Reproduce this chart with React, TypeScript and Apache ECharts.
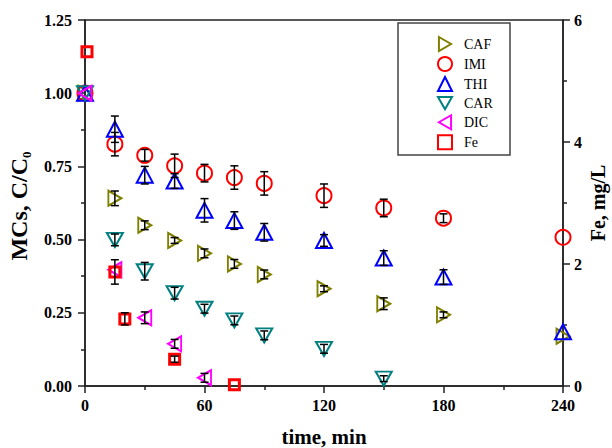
import React, { useEffect, useRef } from "react";
import * as echarts from "echarts";

// ---- data ----
const tCAF = [0, 15, 30, 45, 60, 75, 90, 120, 150, 180, 240];
const vCAF = [1.0, 0.641, 0.549, 0.497, 0.453, 0.417, 0.381, 0.332, 0.281, 0.243, 0.17];
const eCAF = [0, 0.025, 0.015, 0.01, 0.015, 0.015, 0.015, 0.01, 0.02, 0.01, 0];

const tIMI = [0, 15, 30, 45, 60, 75, 90, 120, 150, 180, 240];
const vIMI = [1.0, 0.826, 0.788, 0.752, 0.727, 0.712, 0.692, 0.65, 0.608, 0.573, 0.508];
const eIMI = [0, 0.04, 0.02, 0.04, 0.03, 0.04, 0.04, 0.04, 0.03, 0.015, 0];

const tTHI = [0, 15, 30, 45, 60, 75, 90, 120, 150, 180, 240];
const vTHI = [1.0, 0.877, 0.72, 0.7, 0.6, 0.565, 0.525, 0.497, 0.437, 0.372, 0.185];
const eTHI = [0, 0.045, 0.03, 0.025, 0.04, 0.03, 0.03, 0.02, 0.025, 0.025, 0];

const tCAR = [0, 15, 30, 45, 60, 75, 90, 120, 150];
const vCAR = [1.0, 0.499, 0.392, 0.317, 0.264, 0.224, 0.173, 0.127, 0.025];
const eCAR = [0, 0.02, 0.03, 0.02, 0.015, 0.015, 0.015, 0.015, 0.01];

const tDIC = [0, 15, 30, 45, 60];
const vDIC = [1.0, 0.397, 0.233, 0.144, 0.028];
const eDIC = [0, 0, 0.02, 0.015, 0.015];

const tFe = [1, 15, 20, 45, 75];
const vFe = [5.48, 1.87, 1.1, 0.44, 0.02];
const eFe = [0, 0.2, 0.1, 0.05, 0];

const legendNames = ["CAF", "IMI", "THI", "CAR", "DIC", "Fe"];
const xTicks = [0, 60, 120, 180, 240];

const FONT = "Liberation Serif";

const RIGHT_TRI = "path://M0,0L13,7.5L0,15Z";
const LEFT_TRI = "path://M13,0L0,7.5L13,15Z";
const DOWN_TRI = "path://M0,0L16,0L8,14Z";

function zip(ts: number[], vs: number[]) {
  return ts.map((t, i) => [t, vs[i]]);
}

function errSeries(name: string, ts: number[], vs: number[], es: number[], yAxisIndex: number) {
  const data = ts
    .map((t, i) => [t, vs[i] - es[i], vs[i] + es[i]])
    .filter((_, i) => es[i] > 0);
  return {
    type: "custom",
    name: name + "-err",
    yAxisIndex,
    data,
    z: 5,
    silent: true,
    encode: { x: 0, y: [1, 2] },
    renderItem: (params: any, api: any) => {
      const x = api.value(0);
      const lo = api.coord([x, api.value(1)]);
      const hi = api.coord([x, api.value(2)]);
      const w = 4;
      const st = { stroke: "#000", lineWidth: 1.5 };
      return {
        type: "group",
        children: [
          { type: "line", shape: { x1: lo[0], y1: lo[1], x2: hi[0], y2: hi[1] }, style: st },
          { type: "line", shape: { x1: lo[0] - w, y1: lo[1], x2: lo[0] + w, y2: lo[1] }, style: st },
          { type: "line", shape: { x1: hi[0] - w, y1: hi[1], x2: hi[0] + w, y2: hi[1] }, style: st },
        ],
      };
    },
  };
}

function scatter(name: string, ts: number[], vs: number[], color: string, symbol: string, size: any, bw: number, yAxisIndex = 0) {
  return {
    type: "scatter",
    name,
    yAxisIndex,
    data: zip(ts, vs),
    symbol,
    symbolSize: size,
    z: 3,
    itemStyle: { color: "rgba(0,0,0,0)", borderColor: color, borderWidth: bw, opacity: 1 },
  };
}

const axisLineStyle = { color: "#222", width: 1.5 };
const labelStyle = { fontFamily: FONT, fontWeight: "bold" as const, fontSize: 16, color: "#000" };

export default function App() {
  const ref = useRef<HTMLDivElement>(null);
  useEffect(() => {
    if (!ref.current) return;
    const chart = echarts.init(ref.current, undefined, { renderer: "svg" });
    chart.setOption({
      animation: false,
      backgroundColor: "#fff",
      grid: {
        left: 85,
        right: 49,
        top: 20,
        bottom: 62,
        show: true,
        borderColor: "#222",
        borderWidth: 1.5,
        outerBoundsMode: "none",
        containLabel: false,
      },
      legend: {
        orient: "vertical",
        left: 437,
        top: 36,
        padding: 0,
        itemWidth: 14,
        itemHeight: 14,
        itemGap: 4,
        selectedMode: false,
        data: legendNames,
        textStyle: { fontFamily: FONT, fontSize: 14, color: "#000", padding: [0, 0, 0, 7] },
      },
      graphic: [
        {
          type: "rect",
          shape: { x: 398, y: 23, width: 112, height: 132 },
          style: { fill: "none", stroke: "#444", lineWidth: 1.5 },
          z: 10,
        },
      ],
      xAxis: {
        type: "value",
        min: 0,
        max: 240,
        interval: 60,
        name: "time, min",
        nameLocation: "middle",
        nameGap: 40,
        nameTextStyle: { fontFamily: FONT, fontWeight: "bold", fontSize: 21, color: "#000" },
        axisLine: { show: true, onZero: false, lineStyle: axisLineStyle },
        axisTick: { show: true, length: 7, lineStyle: axisLineStyle },
        minorTick: { show: true, splitNumber: 2, length: 4, lineStyle: axisLineStyle },
        axisLabel: {
          ...labelStyle,
          margin: 11,
          formatter: (v: number) => (xTicks.includes(v) ? String(v) : ""),
        },
        splitLine: { show: false },
      },
      yAxis: [
        {
          type: "value",
          min: 0,
          max: 1.25,
          interval: 0.25,
          name: "{a|MCs, C/C}{b|0}",
          nameLocation: "middle",
          nameRotate: 90,
          nameGap: 45,
          nameTextStyle: {
            fontFamily: FONT,
            fontWeight: "bold",
            fontSize: 24,
            color: "#000",
            padding: [0, 6, 0, 0],
            rich: {
              a: { fontFamily: FONT, fontWeight: "bold", fontSize: 24, lineHeight: 24, verticalAlign: "top", color: "#000" },
              b: { fontFamily: FONT, fontWeight: "bold", fontSize: 13, lineHeight: 26, verticalAlign: "bottom", color: "#000" },
            },
          },
          axisLine: { show: true, onZero: false, lineStyle: axisLineStyle },
          axisTick: { show: true, length: 7, lineStyle: axisLineStyle },
          minorTick: { show: true, splitNumber: 2, length: 4, lineStyle: axisLineStyle },
          axisLabel: { ...labelStyle, margin: 13, formatter: (v: number) => v.toFixed(2) },
          splitLine: { show: false },
        },
        {
          type: "value",
          position: "right",
          min: 0,
          max: 6,
          interval: 2,
          name: "Fe, mg/L",
          nameLocation: "middle",
          nameRotate: 90,
          nameGap: 25,
          nameMoveOverlap: false,
          nameTextStyle: { fontFamily: FONT, fontWeight: "bold", fontSize: 20, color: "#000" },
          axisLine: { show: true, onZero: false, lineStyle: axisLineStyle },
          axisTick: { show: true, length: 7, lineStyle: axisLineStyle },
          minorTick: { show: true, splitNumber: 2, length: 4, lineStyle: axisLineStyle },
          axisLabel: { ...labelStyle, margin: 11 },
          splitLine: { show: false },
        },
      ],
      series: [
        scatter("CAF", tCAF, vCAF, "#808000", RIGHT_TRI, [13, 15], 2),
        scatter("IMI", tIMI, vIMI, "#ff0000", "circle", 15, 2),
        scatter("THI", tTHI, vTHI, "#0000ff", "triangle", [16, 15], 2),
        scatter("CAR", tCAR, vCAR, "#008080", DOWN_TRI, [16, 14], 2),
        scatter("DIC", tDIC, vDIC, "#ff00ff", LEFT_TRI, [13, 15], 2),
        scatter("Fe", tFe, vFe, "#ff0000", "rect", 10, 3, 1),
        errSeries("CAF", tCAF, vCAF, eCAF, 0),
        errSeries("IMI", tIMI, vIMI, eIMI, 0),
        errSeries("THI", tTHI, vTHI, eTHI, 0),
        errSeries("CAR", tCAR, vCAR, eCAR, 0),
        errSeries("DIC", tDIC, vDIC, eDIC, 0),
        errSeries("Fe", tFe, vFe, eFe, 1),
      ],
    });
    return () => chart.dispose();
  }, []);
  return (
    <div
      ref={ref}
      style={{ position: "fixed", left: 0, top: 0, width: 612, height: 448, background: "#fff" }}
    />
  );
}
